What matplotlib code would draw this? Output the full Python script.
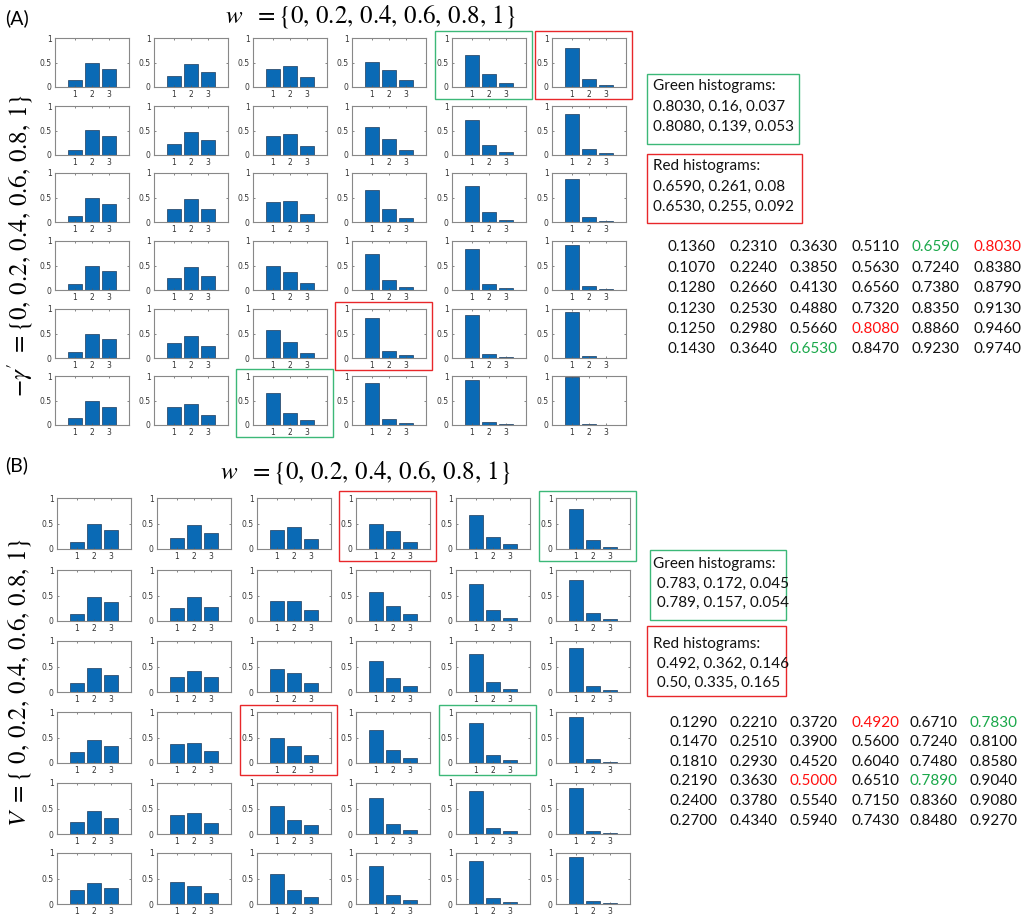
import matplotlib
matplotlib.use('Agg')
import matplotlib.pyplot as plt
from matplotlib.patches import Rectangle

plt.rcParams['mathtext.fontset'] = 'stix'

W, H = 1024, 919

# ---- panel A data: rows = -gamma', cols = w ----
A_bar1 = [[0.1360, 0.2310, 0.3630, 0.5110, 0.6590, 0.8030],
          [0.1070, 0.2240, 0.3850, 0.5630, 0.7240, 0.8380],
          [0.1280, 0.2660, 0.4130, 0.6560, 0.7380, 0.8790],
          [0.1230, 0.2530, 0.4880, 0.7320, 0.8350, 0.9130],
          [0.1250, 0.2980, 0.5660, 0.8080, 0.8860, 0.9460],
          [0.1430, 0.3640, 0.6530, 0.8470, 0.9230, 0.9740]]
A_bar2 = [[0.49, 0.47, 0.43, 0.35, 0.261, 0.16],
          [0.51, 0.47, 0.43, 0.33, 0.21, 0.13],
          [0.50, 0.47, 0.42, 0.27, 0.21, 0.10],
          [0.50, 0.46, 0.37, 0.21, 0.13, 0.075],
          [0.48, 0.45, 0.32, 0.139, 0.085, 0.05],
          [0.49, 0.43, 0.255, 0.12, 0.065, 0.022]]
A_bar3 = [[0.37, 0.30, 0.21, 0.14, 0.08, 0.037],
          [0.38, 0.30, 0.18, 0.11, 0.065, 0.032],
          [0.37, 0.27, 0.17, 0.074, 0.05, 0.02],
          [0.38, 0.29, 0.14, 0.06, 0.035, 0.012],
          [0.39, 0.25, 0.11, 0.053, 0.029, 0.006],
          [0.37, 0.21, 0.092, 0.033, 0.012, 0.004]]
A_green = [(0, 4), (5, 2)]
A_red = [(0, 5), (4, 3)]

# ---- panel B data: rows = V, cols = w ----
B_bar1 = [[0.1290, 0.2210, 0.3720, 0.4920, 0.6710, 0.7830],
          [0.1470, 0.2510, 0.3900, 0.5600, 0.7240, 0.8100],
          [0.1810, 0.2930, 0.4520, 0.6040, 0.7480, 0.8580],
          [0.2190, 0.3630, 0.5000, 0.6510, 0.7890, 0.9040],
          [0.2400, 0.3780, 0.5540, 0.7150, 0.8360, 0.9080],
          [0.2700, 0.4340, 0.5940, 0.7430, 0.8480, 0.9270]]
B_bar2 = [[0.49, 0.47, 0.43, 0.362, 0.24, 0.172],
          [0.48, 0.47, 0.40, 0.30, 0.21, 0.15],
          [0.48, 0.42, 0.37, 0.27, 0.19, 0.11],
          [0.45, 0.40, 0.335, 0.25, 0.157, 0.075],
          [0.45, 0.41, 0.28, 0.20, 0.115, 0.065],
          [0.42, 0.35, 0.27, 0.17, 0.11, 0.05]]
B_bar3 = [[0.38, 0.31, 0.20, 0.146, 0.09, 0.045],
          [0.37, 0.28, 0.21, 0.14, 0.066, 0.04],
          [0.34, 0.29, 0.18, 0.126, 0.06, 0.03],
          [0.33, 0.24, 0.165, 0.10, 0.054, 0.02],
          [0.31, 0.21, 0.17, 0.085, 0.05, 0.027],
          [0.31, 0.22, 0.13, 0.085, 0.04, 0.02]]
B_green = [(0, 5), (3, 4)]
B_red = [(0, 3), (3, 2)]

A_green_text = ['Green histograms:', '0.8030, 0.16, 0.037', '0.8080, 0.139, 0.053']
A_red_text = ['Red histograms:', '0.6590, 0.261, 0.08', '0.6530, 0.255, 0.092']
B_green_text = ['Green histograms:', ' 0.783, 0.172, 0.045', ' 0.789, 0.157, 0.054']
B_red_text = ['Red histograms:', ' 0.492, 0.362, 0.146', ' 0.50, 0.335, 0.165']

w_label = r'$w\ \ =\{0,\,0.2,\,0.4,\,0.6,\,0.8,\,1\}$'
A_ylabel = r"$-\gamma'\ =\{0,\,0.2,\,0.4,\,0.6,\,0.8,\,1\}$"
B_ylabel = r'$V\ =\{\ 0,\,0.2,\,0.4,\,0.6,\,0.8,\,1\}$'

BAR = '#0a6ab5'
GREEN = '#3cb878'
RED = '#e8272a'
TXT_GREEN = '#1aa84a'
TXT_RED = '#ff1010'
FONT = ['Lato', 'DejaVu Sans']


def fx(x):
    return x / W


def fy(y):
    return 1 - y / H


def px_axes(fig, left, top, width, height):
    return fig.add_axes([fx(left), fy(top + height), width / W, height / H])


def small_hist(ax, vals):
    ax.bar([1, 2, 3], vals, width=0.82, color=BAR, edgecolor='#1d3b5c', linewidth=0.5)
    ax.set_xlim(-0.15, 4.2)
    ax.set_ylim(0, 1)
    ax.set_xticks([1, 2, 3])
    ax.set_yticks([0, 0.5, 1])
    ax.set_yticklabels(['0', '0.5', '1'])
    ax.tick_params(direction='in', length=1.5, width=0.5, labelsize=5.5, pad=2.5,
                   colors='#555555', labelcolor='#333333', top=True, right=True)
    for s in ax.spines.values():
        s.set_color('#888888')
        s.set_linewidth(0.8)


def frame(fig, x0, y0, x1, y1, color, lw=1.0):
    fig.patches.append(Rectangle((fx(x0), fy(y1)), fx(x1) - fx(x0), fy(y0) - fy(y1),
                                 transform=fig.transFigure, fill=False,
                                 edgecolor=color, linewidth=lw))


def panel(fig, bar1, bar2, bar3, col_left, row_top, ax_w, ax_h, greens, reds):
    for r in range(6):
        for c in range(6):
            ax = px_axes(fig, col_left[c], row_top[r], ax_w, ax_h)
            small_hist(ax, [bar1[r][c], bar2[r][c], bar3[r][c]])
    for cells, color in [(greens, GREEN), (reds, RED)]:
        for r, c in cells:
            x0 = col_left[c] - 17
            x1 = col_left[c] + ax_w + 6
            y0 = row_top[r] - 7
            y1 = row_top[r] + ax_h + 12
            frame(fig, x0, y0, x1, y1, color)


def text_box(fig, lines, x0, y0, x1, y1, color, tx, ty, dy):
    frame(fig, x0, y0, x1, y1, color)
    for i, s in enumerate(lines):
        fig.text(fx(tx), fy(ty + i * dy), s, fontsize=11, family=FONT,
                 ha='left', va='center', color='#111111')


def number_table(fig, bar1, greens, reds, x_cols, y_rows):
    for r in range(6):
        for c in range(6):
            color = '#111111'
            if (r, c) in greens:
                color = TXT_GREEN
            elif (r, c) in reds:
                color = TXT_RED
            fig.text(fx(x_cols[c]), fy(y_rows[r]), '%.4f' % bar1[r][c], fontsize=11,
                     family=FONT, ha='left', va='center', color=color)


fig = plt.figure(figsize=(W / 100, H / 100), dpi=100)

# ---- (A) ----
fig.text(fx(5), fy(18), '(A)', fontsize=14, family=FONT, ha='left', va='center')
fig.text(fx(370), fy(17), w_label, fontsize=18, ha='center', va='center')
fig.text(fx(20), fy(245), A_ylabel, fontsize=18, ha='center', va='center', rotation=90)
panel(fig, A_bar1, A_bar2, A_bar3,
      [55, 154, 253, 352, 452, 552], [38, 106, 173, 241, 309, 376], 74, 49,
      A_green, A_red)
text_box(fig, A_green_text, 647, 74, 799, 144, GREEN, 653, 86, 20.5)
text_box(fig, A_red_text, 647, 154, 802, 223, RED, 653, 166, 20.5)
number_table(fig, A_bar1, A_green, A_red,
             [668, 729, 790, 851, 912, 973], [247, 268, 288, 309, 329, 349])

# ---- (B) ----
fig.text(fx(5), fy(465), '(B)', fontsize=14, family=FONT, ha='left', va='center')
fig.text(fx(365), fy(473), w_label, fontsize=18, ha='center', va='center')
fig.text(fx(20), fy(682), B_ylabel, fontsize=18, ha='center', va='center', rotation=90)
panel(fig, B_bar1, B_bar2, B_bar3,
      [57, 157, 257, 356, 456, 556], [498, 570, 641, 712, 783, 853], 74, 51,
      B_green, B_red)
text_box(fig, B_green_text, 650, 550, 786, 620, GREEN, 653, 564, 19.5)
text_box(fig, B_red_text, 647, 626, 786, 696, RED, 653, 644, 19.5)
number_table(fig, B_bar1, B_green, B_red,
             [670, 730, 790, 851, 910, 970], [723, 742, 762, 781, 801, 821])

fig.savefig('out.png', dpi=100)
